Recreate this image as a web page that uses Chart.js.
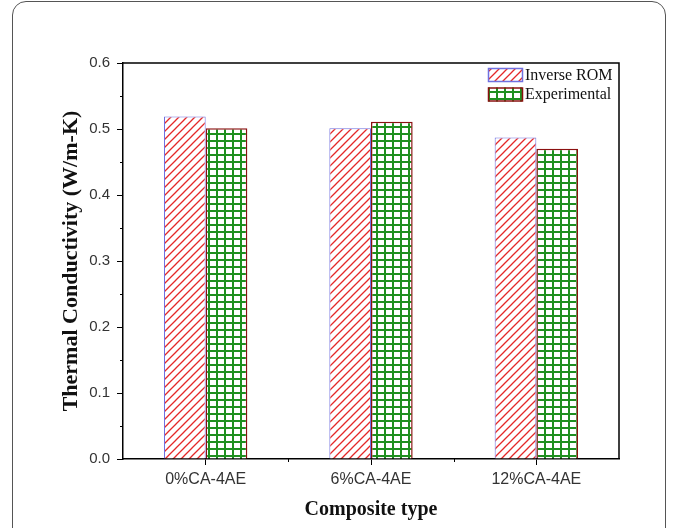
<!DOCTYPE html>
<html>
<head>
<meta charset="utf-8">
<script src="https://cdn.jsdelivr.net/npm/chart.js@4.4.0/dist/chart.umd.min.js"></script>
<style>
  html, body { margin: 0; padding: 0; background: #fff; overflow: hidden; }
  #wrap { position: relative; width: 673px; height: 528px; }
  #frame {
    position: absolute; left: 12px; top: 1px; width: 654px; height: 560px;
    border: 1.5px solid #555; border-radius: 14px; box-sizing: border-box;
  }
  canvas { position: absolute; left: 0; top: 0; }
</style>
</head>
<body>
<div id="wrap">
  <div id="frame"></div>
  <canvas id="chart" width="673" height="528"></canvas>
</div>
<script>
const categories = ["0%CA-4AE", "6%CA-4AE", "12%CA-4AE"];
const inverseROM = [0.519, 0.501, 0.487];
const experimental = [0.501, 0.511, 0.470];
const yTicks = [0.0, 0.1, 0.2, 0.3, 0.4, 0.5, 0.6];

// hatch patterns
function hatchPattern() {
  const s = 8;
  const c = document.createElement("canvas");
  c.width = s; c.height = s;
  const g = c.getContext("2d");
  g.fillStyle = "#fff";
  g.fillRect(0, 0, s, s);
  g.strokeStyle = "#e42828";
  g.lineWidth = 1.3;
  g.beginPath();
  g.moveTo(0, s); g.lineTo(s, 0);
  g.moveTo(-1, 1); g.lineTo(1, -1);
  g.moveTo(s - 1, s + 1); g.lineTo(s + 1, s - 1);
  g.stroke();
  return g.createPattern(c, "repeat");
}

function gridPattern() {
  const c = document.createElement("canvas");
  c.width = 8; c.height = 7;
  const g = c.getContext("2d");
  g.fillStyle = "#fff";
  g.fillRect(0, 0, 8, 7);
  g.fillStyle = "#1f8f1f";
  g.fillRect(0, 0, 2, 7);
  g.fillRect(0, 0, 8, 2);
  return g.createPattern(c, "repeat");
}

const ctx = document.getElementById("chart").getContext("2d");
const hatch = hatchPattern();
const grid = gridPattern();

// box, minor ticks and legend
const extras = {
  id: "extras",
  afterDraw(chart) {
    const { ctx, chartArea: a, scales: { x, y } } = chart;
    ctx.save();
    ctx.strokeStyle = "#000";
    ctx.lineWidth = 1.5;
    ctx.beginPath();
    ctx.moveTo(a.left, a.top);
    ctx.lineTo(a.right, a.top);
    ctx.lineTo(a.right, a.bottom);
    ctx.stroke();

    // minor ticks
    ctx.lineWidth = 1;
    ctx.beginPath();
    for (let i = 0; i < yTicks.length - 1; i++) {
      const py = Math.round(y.getPixelForValue((yTicks[i] + yTicks[i + 1]) / 2)) + 0.5;
      ctx.moveTo(a.left - 3, py);
      ctx.lineTo(a.left, py);
    }
    for (let i = 0; i < categories.length - 1; i++) {
      const px = Math.round((x.getPixelForValue(i) + x.getPixelForValue(i + 1)) / 2) + 0.5;
      ctx.moveTo(px, a.bottom);
      ctx.lineTo(px, a.bottom + 3);
    }
    ctx.stroke();

    // legend
    const items = [
      { label: "Inverse ROM", fill: hatch, border: "#7070e0" },
      { label: "Experimental", fill: grid, border: "#8b1010" }
    ];
    const lx = a.right - 131, ly = a.top + 5;
    items.forEach((it, i) => {
      const top = ly + i * 19.5;
      ctx.fillStyle = it.fill;
      ctx.fillRect(lx, top, 35, 14);
      ctx.strokeStyle = it.border;
      ctx.lineWidth = 1.5;
      ctx.strokeRect(lx + 0.5, top + 0.5, 34, 13);
      ctx.fillStyle = "#111";
      ctx.font = "16px 'Liberation Serif', serif";
      ctx.textBaseline = "middle";
      ctx.textAlign = "left";
      ctx.fillText(it.label, lx + 37, top + 7.5);
    });
    ctx.restore();
  }
};

new Chart(ctx, {
  type: "bar",
  data: {
    labels: categories,
    datasets: [
      {
        label: "Inverse ROM",
        data: inverseROM,
        backgroundColor: hatch,
        borderColor: "#7070e0",
        borderWidth: 1
      },
      {
        label: "Experimental",
        data: experimental,
        backgroundColor: grid,
        borderColor: "#8b1010",
        borderWidth: 1.5
      }
    ]
  },
  options: {
    responsive: false,
    animation: false,
    categoryPercentage: 0.504,
    barPercentage: 1.0,
    layout: { padding: { top: 63, right: 54, left: 0, bottom: 0 } },
    plugins: {
      legend: { display: false },
      tooltip: { enabled: false }
    },
    scales: {
      x: {
        offset: true,
        grid: { offset: false, drawOnChartArea: false, tickLength: 6, tickColor: "#000" },
        border: { color: "#000", width: 1.5 },
        ticks: { color: "#333", padding: 5, font: { family: "'Liberation Sans', Arial", size: 16 } },
        title: {
          display: true,
          text: "Composite type",
          color: "#111",
          font: { family: "'Liberation Serif', 'Times New Roman', serif", size: 20, weight: "bold" },
          padding: { top: 0, bottom: 6 }
        },
        afterFit: s => { s.height = 69; }
      },
      y: {
        min: 0,
        max: 0.6,
        ticks: {
          stepSize: 0.1,
          color: "#333",
          padding: 7,
          font: { family: "'Liberation Sans', Arial", size: 15 },
          callback: v => v.toFixed(1)
        },
        grid: { drawOnChartArea: false, tickLength: 6, tickColor: "#000" },
        border: { color: "#000", width: 1.5 },
        title: {
          display: true,
          text: "Thermal Conductivity (W/m-K)",
          color: "#111",
          font: { family: "'Liberation Serif', 'Times New Roman', serif", size: 22, weight: "bold" },
          padding: { top: 58, bottom: 0 }
        },
        afterFit: s => { s.width = 123; }
      }
    }
  },
  plugins: [extras]
});
</script>
</body>
</html>
